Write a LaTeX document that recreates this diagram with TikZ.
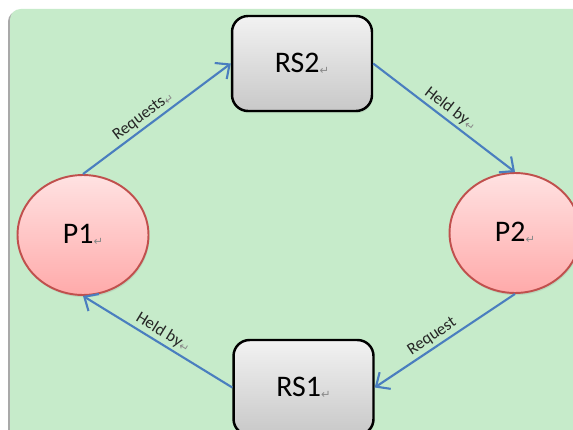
\documentclass[tikz,border=0pt]{standalone}
\usepackage{fontspec}
\setmainfont{Carlito}
\newfontfamily\markfont{DejaVu Sans}
\usepackage{tikz}
\usetikzlibrary{arrows.meta,calc,positioning,shapes,shapes.geometric,shadows}
\definecolor{PanelGreen}{HTML}{C6EBCA}
\definecolor{PanelEdge}{HTML}{A9A9A9}
\definecolor{ProcTop}{HTML}{FFE2E2}
\definecolor{ProcBot}{HTML}{FFAAAA}
\definecolor{ProcLine}{HTML}{C0504D}
\definecolor{ResTop}{HTML}{F2F2F2}
\definecolor{ResBot}{HTML}{C8C8C8}
\definecolor{EdgeBlue}{HTML}{4A7EBF}
\definecolor{MarkGray}{HTML}{8A8A8A}
\newcommand{\retmark}{{\markfont\fontsize{6.5}{6.5}\selectfont\color{MarkGray}\raisebox{-0.3ex}{↵}}}
\tikzset{
  proc/.style={ellipse, draw=ProcLine, line width=1.1pt, top color=ProcTop,
               bottom color=ProcBot, minimum width=2.62cm, minimum height=2.4cm,
               inner sep=0pt, font=\fontsize{17}{19}\selectfont,
               drop shadow={opacity=0.18, shadow xshift=0.5pt, shadow yshift=-1.2pt}},
  res/.style={rectangle, rounded corners=0.32cm, draw=black, line width=1.4pt,
              top color=ResTop, bottom color=ResBot, minimum width=2.8cm,
              minimum height=1.9cm, inner sep=0pt, font=\fontsize{17}{19}\selectfont,
              drop shadow={opacity=0.18, shadow xshift=0.5pt, shadow yshift=-1.2pt}},
  link/.style={draw=EdgeBlue, line width=1.2pt,
               -{Straight Barb[length=2.2mm, width=4mm, line width=1.2pt]}},
  elabel/.style={font=\fontsize{9.5}{10}\selectfont, sloped, above, inner sep=1.5pt,
                 text=black!85},
}

\begin{document}
\begin{tikzpicture}[x=0.02cm, y=-0.02cm]
\useasboundingbox (0,0) rectangle (573,429);
\clip (0,0) rectangle (573,429);
% panel
\fill[PanelEdge, rounded corners=6pt] (8,11) rectangle (600,460);
\fill[PanelGreen, rounded corners=6pt] (10,9) rectangle (600,460);

\node[res] (rs2) at (302,63.5) {RS2\retmark};
\node[res] (rs1) at (303.5,387.5) {RS1\retmark};
\node[proc] (p1) at (83,235) {P1\retmark};
\node[proc] (p2) at (515,233) {P2\retmark};

\draw[link] (p1.north) -- node[elabel, pos=0.45] {Requests\retmark} (rs2.west);
\draw[link] (rs2.east) -- node[elabel, pos=0.5] {Held by\retmark} (p2.north);
\draw[link] (p2.south) -- node[elabel, pos=0.55] {Request} (rs1.east);
\draw[link] (rs1.west) -- node[elabel, pos=0.5] {Held by\retmark} (p1.south);
\end{tikzpicture}
\end{document}
